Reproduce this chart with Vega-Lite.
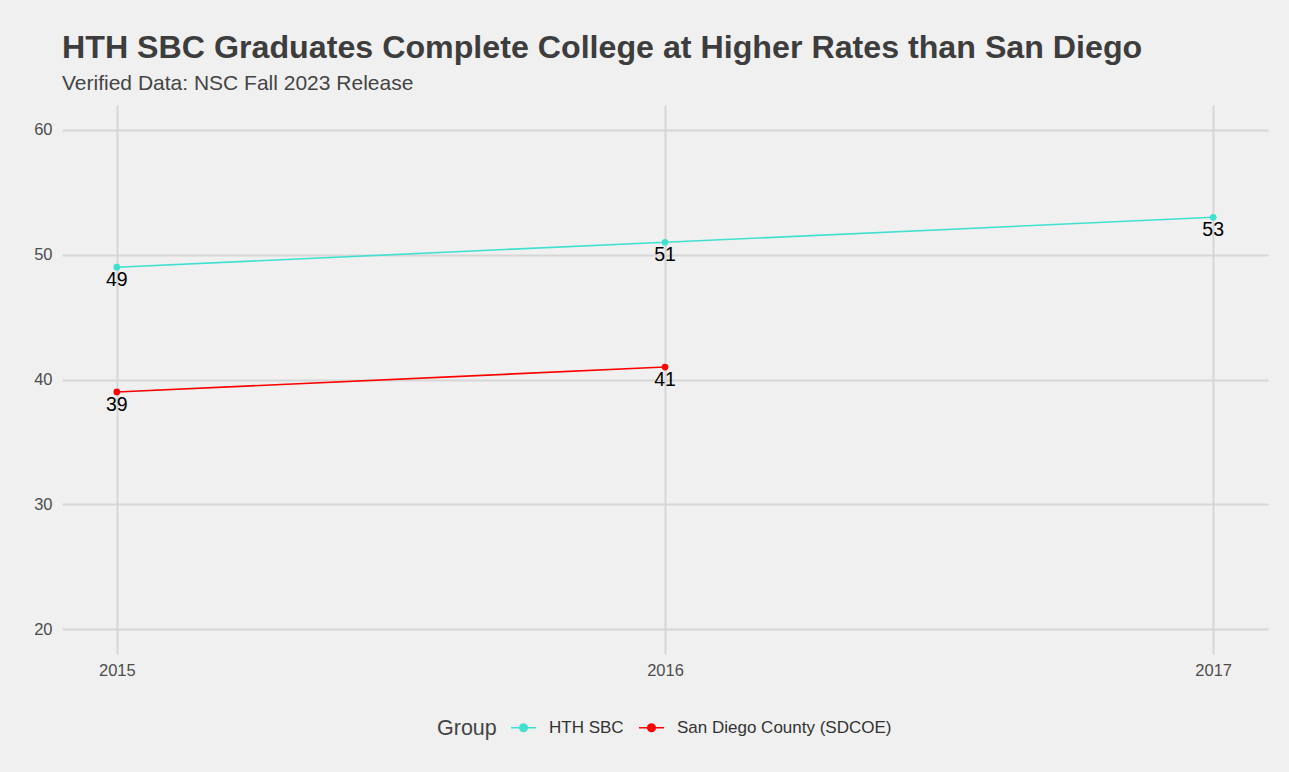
{
  "$schema": "https://vega.github.io/schema/vega-lite/v6.json",
  "width": 1206,
  "height": 549,
  "autosize": {"type": "none"},
  "padding": {"left": 62, "top": 105, "right": 21, "bottom": 118},
  "background": "#F0F0F0",
  "view": {"stroke": null},
  "title": {
    "text": "HTH SBC Graduates Complete College at Higher Rates than San Diego",
    "subtitle": "Verified Data: NSC Fall 2023 Release",
    "anchor": "start",
    "frame": "group",
    "font": "Liberation Sans",
    "fontSize": 32.2,
    "fontWeight": "bold",
    "color": "#3d3d3d",
    "subtitleFont": "Liberation Sans",
    "subtitleFontSize": 21,
    "subtitleColor": "#444444",
    "subtitlePadding": 8,
    "offset": 10
  },
  "data": {
    "values": [
      {"Year": 2015, "Group": "HTH SBC", "Rate": 49},
      {"Year": 2016, "Group": "HTH SBC", "Rate": 51},
      {"Year": 2017, "Group": "HTH SBC", "Rate": 53},
      {"Year": 2015, "Group": "San Diego County (SDCOE)", "Rate": 39},
      {"Year": 2016, "Group": "San Diego County (SDCOE)", "Rate": 41}
    ]
  },
  "encoding": {
    "x": {
      "field": "Year",
      "type": "quantitative",
      "scale": {"domain": [2014.9, 2017.1], "nice": false, "zero": false},
      "axis": {
        "title": null,
        "values": [2015, 2016, 2017],
        "format": "d",
        "domain": false,
        "ticks": false,
        "labelFont": "Liberation Sans",
        "labelFontSize": 16.5,
        "labelColor": "#4D4D4D",
        "labelPadding": 8,
        "gridColor": "#D6D6D6",
        "gridWidth": 2
      }
    },
    "y": {
      "field": "Rate",
      "type": "quantitative",
      "scale": {"domain": [18, 62], "nice": false, "zero": false},
      "axis": {
        "title": null,
        "values": [20, 30, 40, 50, 60],
        "domain": false,
        "ticks": false,
        "labelFont": "Liberation Sans",
        "labelFontSize": 16.5,
        "labelColor": "#4D4D4D",
        "labelPadding": 10,
        "gridColor": "#D6D6D6",
        "gridWidth": 2
      }
    }
  },
  "layer": [
    {
      "mark": {"type": "line", "strokeWidth": 1.6, "point": {"filled": true, "size": 45, "opacity": 1}},
      "encoding": {
        "color": {
          "field": "Group",
          "type": "nominal",
          "scale": {"domain": ["HTH SBC", "San Diego County (SDCOE)"], "range": ["#40E0D0", "#FF0000"]},
          "legend": {
            "orient": "none",
            "legendX": 375,
            "legendY": 609,
            "direction": "horizontal",
            "title": "Group",
            "titleOrient": "left",
            "titleAnchor": "middle",
            "titleFont": "Liberation Sans",
            "titleFontSize": 21.5,
            "titleFontWeight": "normal",
            "titleColor": "#444444",
            "titleBaseline": "middle",
            "titlePadding": 13,
            "labelFont": "Liberation Sans",
            "labelFontSize": 17,
            "labelColor": "#333333",
            "labelOffset": 12,
            "labelLimit": 0,
            "columnPadding": 11,
            "symbolType": "M-1,0L1,0M-0.3,0A0.3,0.3 0 1,1 0.3,0A0.3,0.3 0 1,1 -0.3,0Z",
            "symbolSize": 625,
            "symbolStrokeWidth": 1.6,
            "encode": {
              "symbols": {"update": {"fill": {"scale": "color", "field": "value"}, "fillOpacity": {"value": 1}}},
              "title": {"update": {"dy": {"value": 4}}}
            }
          }
        }
      }
    },
    {
      "mark": {"type": "text", "font": "Liberation Sans", "fontSize": 19.5, "color": "#000000", "baseline": "middle", "dy": 13},
      "encoding": {
        "text": {"field": "Rate", "type": "quantitative"}
      }
    }
  ]
}
